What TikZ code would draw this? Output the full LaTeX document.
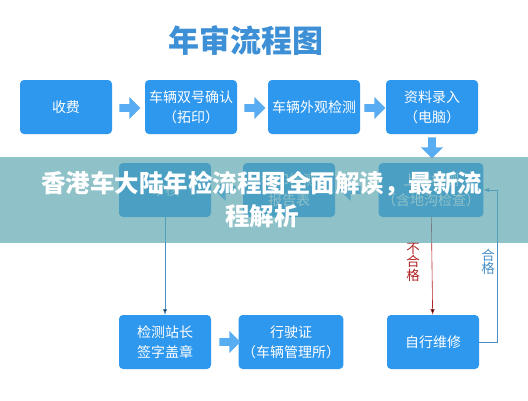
\documentclass[tikz,border=0pt]{standalone}
\usepackage{fontspec}
\usepackage{tikz}
\usetikzlibrary{arrows.meta, shapes.arrows}
\newfontfamily\cjk{Noto Sans CJK SC}
\definecolor{boxblue}{HTML}{2E97EE}
\definecolor{titleblue}{HTML}{3D8FD6}
\definecolor{lineblue}{HTML}{4A90C8}
\definecolor{linered}{HTML}{B22222}
\definecolor{banner}{HTML}{59A4AE}

\begin{document}
\begin{tikzpicture}[x=1pt, y=-1pt,
    main/.style = {fill=boxblue, rounded corners=4pt, minimum width=92pt, minimum height=54pt,
                   text=white, align=center, font=\cjk\fontsize{14}{20}\selectfont},
    blockarrow/.style = {single arrow, fill=boxblue!80, minimum width=22pt, minimum height=21pt,
                         single arrow head extend=3pt, inner sep=1.5pt}]
            \useasboundingbox[fill=white] (0,0) rectangle (528,400);

            \node[text=titleblue, font=\cjk\bfseries\fontsize{31}{31}\selectfont] (title) at (246,40) {年审流程图};

            % top row
            \node[main] (fee) at (66,107) {收费};
            \node[main] (confirm) at (191,107) {车辆双号确认\\（拓印）};
            \node[main] (look) at (314,107) {车辆外观检测};
            \node[main] (input) at (432,107) {资料录入\\（电脑）};

            % middle row
            \node[main] (audit) at (165,190) {审核};
            \node[main] (report) at (289,190) {打印检测\\报告表};
            \node[main] (test) at (431,190) {上线检测\\（含地沟检查）};

            % bottom row
            \node[main] (sign) at (165,342) {检测站长\\签字盖章};
            \node[main] (license) at (291,342) {行驶证\\（车辆管理所）};
            \node[main] (repair) at (433,342) {自行维修};

            \node[blockarrow] (a1) at (128,108) {};
            \node[blockarrow] (a2) at (253,108) {};
            \node[blockarrow] (a3) at (373,108) {};
            \node[blockarrow, shape border rotate=270] (a4) at (432,146) {};
            \node[blockarrow, shape border rotate=180] (a5) at (227,190) {};
            \node[blockarrow, shape border rotate=180] (a6) at (352,190) {};
            \node[blockarrow] (a7) at (228,342) {};

            \path[-Latex, draw=lineblue, semithick] (audit) edge (sign);
            \path[-Latex, draw=linered, semithick] (test) edge (repair);
            \draw[-Latex, lineblue, semithick] (repair.east) -- ++(18,0) |- (test.east);

            \node[text=linered, align=center, font=\cjk\fontsize{13.5}{13.5}\selectfont] (fail) at (413,262) {不\\合\\格};
            \node[text=lineblue, align=center, font=\cjk\fontsize{13.5}{13.5}\selectfont] (pass) at (488,262) {合\\格};

            % banner over the picture
            \fill[banner, opacity=0.67] (0,157) rectangle (528,243);
            \node[text=white, align=center, font=\cjk\bfseries\fontsize{24.5}{33}\selectfont] (head) at (262,200)
                {香港车大陆年检流程图全面解读，最新流\\程解析};
        \end{tikzpicture}
\end{document}
